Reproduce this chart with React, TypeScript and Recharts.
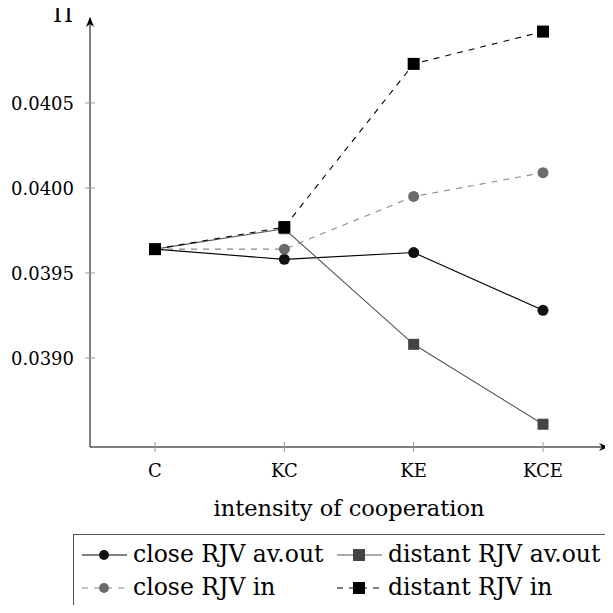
import { LineChart, Line, XAxis, YAxis } from 'recharts'

const categories = ['C', 'KC', 'KE', 'KCE']
const closeAvOut = [0.03964, 0.03958, 0.03962, 0.03928]
const distantAvOut = [0.03964, 0.03976, 0.03908, 0.03861]
const closeIn = [0.03964, 0.03964, 0.03995, 0.04009]
const distantIn = [0.03964, 0.03977, 0.04073, 0.04092]
const yTicks = [0.039, 0.0395, 0.04, 0.0405]

const data = categories.map((c, i) => ({
  cat: c,
  closeAvOut: closeAvOut[i],
  distantAvOut: distantAvOut[i],
  closeIn: closeIn[i],
  distantIn: distantIn[i],
}))

const FONT = '"DejaVu Serif", "Liberation Serif", "Times New Roman", serif'

const circleDot = (fill: string) => (p: any) => (
  <circle key={`c-${p.index}`} cx={p.cx} cy={p.cy} r={5.5} fill={fill} />
)
const squareDot = (fill: string, s: number) => (p: any) => (
  <rect key={`s-${p.index}`} x={p.cx - s / 2} y={p.cy - s / 2} width={s} height={s} fill={fill} />
)

const YTick = ({ x, y, payload }: any) => (
  <g>
    <line x1={x - 5} x2={x + 5} y1={y} y2={y} stroke="#999" />
    <text x={x - 16} y={y + 7} textAnchor="end" fontFamily={FONT} fontSize={18} fill="#000">
      {payload.value.toFixed(4)}
    </text>
  </g>
)

const XTick = ({ x, y, payload }: any) => (
  <g>
    <line x1={x} x2={x} y1={y - 5} y2={y + 5} stroke="#999" />
    <text x={x} y={y + 30} textAnchor="middle" fontFamily={FONT} fontSize={18} fill="#000">
      {payload.value}
    </text>
  </g>
)

const legendItems = [
  { name: 'close RJV av.out', color: '#000', dash: undefined, mark: 'circle', fill: '#111' },
  { name: 'distant RJV av.out', color: '#555', dash: undefined, mark: 'square', fill: '#444' },
  { name: 'close RJV in', color: '#888', dash: '6 6', mark: 'circle', fill: '#6b6b6b' },
  { name: 'distant RJV in', color: '#000', dash: '6 6', mark: 'square', fill: '#000' },
]
const legendCols = [9, 264]
const legendRows = [28, 61]

function Legend() {
  return (
    <svg width={560} height={77} style={{ position: 'absolute', left: 73, top: 534 }}>
      <rect x={0.5} y={0.5} width={570} height={75} fill="#fff" stroke="#555" />
      {legendItems.map((it, i) => {
        const x0 = legendCols[i % 2]
        const y0 = legendRows[Math.floor(i / 2)]
        const cy = y0 - 7
        return (
          <g key={it.name}>
            <line x1={x0} x2={x0 + 45} y1={cy} y2={cy} stroke={it.color} strokeDasharray={it.dash} />
            {it.mark === 'circle' ? (
              <circle cx={x0 + 22} cy={cy} r={5} fill={it.fill} />
            ) : (
              <rect x={x0 + 16} y={cy - 6} width={12} height={12} fill={it.fill} />
            )}
            <text x={x0 + 51} y={y0} fontFamily={FONT} fontSize={23.5} fill="#000">
              {it.name}
            </text>
          </g>
        )
      })}
    </svg>
  )
}

export default function App() {
  return (
    <div style={{ position: 'relative', width: 613, height: 613, margin: -8, overflow: 'hidden' }}>
      <LineChart width={613} height={613} data={data} margin={{ top: 18, right: 5, left: 0, bottom: 96 }}>
        <defs>
          <marker id="arrow" viewBox="0 0 10 8" refX={9} refY={4} markerWidth={10} markerHeight={8}
            markerUnits="userSpaceOnUse" orient="auto-start-reverse">
            <path d="M0,0 L10,4 L0,8 L3,4 z" fill="#000" />
          </marker>
        </defs>
        <XAxis
          dataKey="cat"
          scale="point"
          padding={{ left: 65, right: 65 }}
          height={70}
          tickSize={0}
          tickMargin={0}
          tickLine={false}
          tick={<XTick />}
          axisLine={{ stroke: '#000', markerEnd: 'url(#arrow)' }}
          label={(p: any) => (
            <text x={p.viewBox.x + p.viewBox.width / 2} y={p.viewBox.y + 69} textAnchor="middle"
              fontFamily={FONT} fontSize={22.5} fill="#000">
              intensity of cooperation
            </text>
          )}
        />
        <YAxis
          type="number"
          domain={[0.038476, 0.041]}
          ticks={yTicks}
          allowDataOverflow
          width={90}
          tickSize={0}
          tickMargin={0}
          tickLine={false}
          tick={<YTick />}
          axisLine={{ stroke: '#000', markerStart: 'url(#arrow)' }}
          label={(p: any) => (
            <text x={p.viewBox.x + p.viewBox.width - 17} y={p.viewBox.y + 4} textAnchor="end"
              fontFamily={FONT} fontSize={23} fill="#000">
              Π
            </text>
          )}
        />
        <Line dataKey="closeAvOut" stroke="#000" strokeWidth={1.1} dot={circleDot('#111')} isAnimationActive={false} />
        <Line dataKey="distantAvOut" stroke="#555" strokeWidth={1.1} dot={squareDot('#444', 11)} isAnimationActive={false} />
        <Line dataKey="closeIn" stroke="#888" strokeWidth={1.1} strokeDasharray="6 6" dot={circleDot('#6b6b6b')} isAnimationActive={false} />
        <Line dataKey="distantIn" stroke="#000" strokeWidth={1.1} strokeDasharray="6 6" dot={squareDot('#000', 12)} isAnimationActive={false} />
      </LineChart>
      <Legend />
    </div>
  )
}
